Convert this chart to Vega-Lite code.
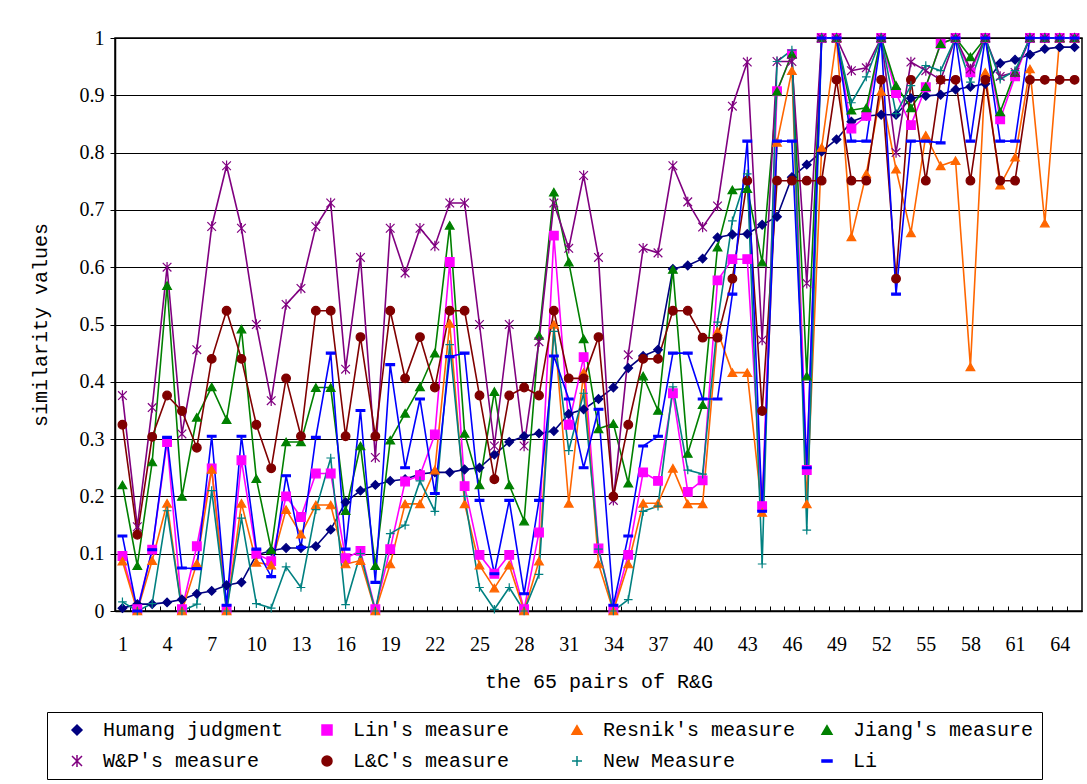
{
"$schema": "https://vega.github.io/schema/vega-lite/v6.json",
"width": 967, "height": 573,
"autosize": {"type": "none"},
"padding": {"left": 115, "top": 38, "right": 5, "bottom": 173},
"background": "#ffffff",
"config": {
  "font": "Liberation Mono",
  "view": {"stroke": "#000000", "strokeWidth": 1.5},
  "axis": {"domainColor": "#000000", "tickColor": "#000000", "labelColor": "#000000", "titleColor": "#000000", "labelFont": "Liberation Serif", "titleFont": "Liberation Mono", "titleFontWeight": "normal", "labelFontSize": 20, "titleFontSize": 20}
},
"data": {"values": [
{"s":"Humang judgment","i":1,"v":0.005},{"s":"Humang judgment","i":2,"v":0.012},{"s":"Humang judgment","i":3,"v":0.012},{"s":"Humang judgment","i":4,"v":0.015},{"s":"Humang judgment","i":5,"v":0.02},{"s":"Humang judgment","i":6,"v":0.03},{"s":"Humang judgment","i":7,"v":0.035},{"s":"Humang judgment","i":8,"v":0.045},{"s":"Humang judgment","i":9,"v":0.05},{"s":"Humang judgment","i":10,"v":0.098},
{"s":"Humang judgment","i":11,"v":0.105},{"s":"Humang judgment","i":12,"v":0.11},{"s":"Humang judgment","i":13,"v":0.11},{"s":"Humang judgment","i":14,"v":0.113},{"s":"Humang judgment","i":15,"v":0.142},{"s":"Humang judgment","i":16,"v":0.19},{"s":"Humang judgment","i":17,"v":0.21},{"s":"Humang judgment","i":18,"v":0.22},{"s":"Humang judgment","i":19,"v":0.227},{"s":"Humang judgment","i":20,"v":0.23},
{"s":"Humang judgment","i":21,"v":0.239},{"s":"Humang judgment","i":22,"v":0.242},{"s":"Humang judgment","i":23,"v":0.242},{"s":"Humang judgment","i":24,"v":0.247},{"s":"Humang judgment","i":25,"v":0.25},{"s":"Humang judgment","i":26,"v":0.273},{"s":"Humang judgment","i":27,"v":0.295},{"s":"Humang judgment","i":28,"v":0.305},{"s":"Humang judgment","i":29,"v":0.31},{"s":"Humang judgment","i":30,"v":0.314},
{"s":"Humang judgment","i":31,"v":0.344},{"s":"Humang judgment","i":32,"v":0.352},{"s":"Humang judgment","i":33,"v":0.37},{"s":"Humang judgment","i":34,"v":0.39},{"s":"Humang judgment","i":35,"v":0.424},{"s":"Humang judgment","i":36,"v":0.445},{"s":"Humang judgment","i":37,"v":0.456},{"s":"Humang judgment","i":38,"v":0.597},{"s":"Humang judgment","i":39,"v":0.603},{"s":"Humang judgment","i":40,"v":0.615},
{"s":"Humang judgment","i":41,"v":0.652},{"s":"Humang judgment","i":42,"v":0.657},{"s":"Humang judgment","i":43,"v":0.658},{"s":"Humang judgment","i":44,"v":0.674},{"s":"Humang judgment","i":45,"v":0.688},{"s":"Humang judgment","i":46,"v":0.757},{"s":"Humang judgment","i":47,"v":0.779},{"s":"Humang judgment","i":48,"v":0.802},{"s":"Humang judgment","i":49,"v":0.823},{"s":"Humang judgment","i":50,"v":0.854},
{"s":"Humang judgment","i":51,"v":0.864},{"s":"Humang judgment","i":52,"v":0.866},{"s":"Humang judgment","i":53,"v":0.866},{"s":"Humang judgment","i":54,"v":0.895},{"s":"Humang judgment","i":55,"v":0.899},{"s":"Humang judgment","i":56,"v":0.901},{"s":"Humang judgment","i":57,"v":0.91},{"s":"Humang judgment","i":58,"v":0.915},{"s":"Humang judgment","i":59,"v":0.92},{"s":"Humang judgment","i":60,"v":0.956},
{"s":"Humang judgment","i":61,"v":0.962},{"s":"Humang judgment","i":62,"v":0.971},{"s":"Humang judgment","i":63,"v":0.981},{"s":"Humang judgment","i":64,"v":0.984},{"s":"Humang judgment","i":65,"v":0.984},

{"s":"Lin's measure","i":1,"v":0.096},{"s":"Lin's measure","i":2,"v":0.003},{"s":"Lin's measure","i":3,"v":0.107},{"s":"Lin's measure","i":4,"v":0.295},{"s":"Lin's measure","i":5,"v":0.003},{"s":"Lin's measure","i":6,"v":0.113},{"s":"Lin's measure","i":7,"v":0.249},{"s":"Lin's measure","i":8,"v":0.003},{"s":"Lin's measure","i":9,"v":0.263},{"s":"Lin's measure","i":10,"v":0.1},
{"s":"Lin's measure","i":11,"v":0.087},{"s":"Lin's measure","i":12,"v":0.2},{"s":"Lin's measure","i":13,"v":0.164},{"s":"Lin's measure","i":14,"v":0.24},{"s":"Lin's measure","i":15,"v":0.24},{"s":"Lin's measure","i":16,"v":0.092},{"s":"Lin's measure","i":17,"v":0.105},{"s":"Lin's measure","i":18,"v":0.003},{"s":"Lin's measure","i":19,"v":0.108},{"s":"Lin's measure","i":20,"v":0.226},
{"s":"Lin's measure","i":21,"v":0.237},{"s":"Lin's measure","i":22,"v":0.308},{"s":"Lin's measure","i":23,"v":0.609},{"s":"Lin's measure","i":24,"v":0.218},{"s":"Lin's measure","i":25,"v":0.098},{"s":"Lin's measure","i":26,"v":0.065},{"s":"Lin's measure","i":27,"v":0.098},{"s":"Lin's measure","i":28,"v":0.003},{"s":"Lin's measure","i":29,"v":0.137},{"s":"Lin's measure","i":30,"v":0.655},
{"s":"Lin's measure","i":31,"v":0.325},{"s":"Lin's measure","i":32,"v":0.443},{"s":"Lin's measure","i":33,"v":0.109},{"s":"Lin's measure","i":34,"v":0.003},{"s":"Lin's measure","i":35,"v":0.098},{"s":"Lin's measure","i":36,"v":0.242},{"s":"Lin's measure","i":37,"v":0.227},{"s":"Lin's measure","i":38,"v":0.38},{"s":"Lin's measure","i":39,"v":0.208},{"s":"Lin's measure","i":40,"v":0.228},
{"s":"Lin's measure","i":41,"v":0.577},{"s":"Lin's measure","i":42,"v":0.614},{"s":"Lin's measure","i":43,"v":0.614},{"s":"Lin's measure","i":44,"v":0.183},{"s":"Lin's measure","i":45,"v":0.907},{"s":"Lin's measure","i":46,"v":0.972},{"s":"Lin's measure","i":47,"v":0.246},{"s":"Lin's measure","i":48,"v":1},{"s":"Lin's measure","i":49,"v":1},{"s":"Lin's measure","i":50,"v":0.842},
{"s":"Lin's measure","i":51,"v":0.864},{"s":"Lin's measure","i":52,"v":1},{"s":"Lin's measure","i":53,"v":0.904},{"s":"Lin's measure","i":54,"v":0.848},{"s":"Lin's measure","i":55,"v":0.914},{"s":"Lin's measure","i":56,"v":0.99},{"s":"Lin's measure","i":57,"v":1},{"s":"Lin's measure","i":58,"v":0.94},{"s":"Lin's measure","i":59,"v":1},{"s":"Lin's measure","i":60,"v":0.858},
{"s":"Lin's measure","i":61,"v":0.933},{"s":"Lin's measure","i":62,"v":1},{"s":"Lin's measure","i":63,"v":1},{"s":"Lin's measure","i":64,"v":1},{"s":"Lin's measure","i":65,"v":1},

{"s":"Resnik's measure","i":1,"v":0.087},{"s":"Resnik's measure","i":2,"v":0},{"s":"Resnik's measure","i":3,"v":0.088},{"s":"Resnik's measure","i":4,"v":0.188},{"s":"Resnik's measure","i":5,"v":0},{"s":"Resnik's measure","i":6,"v":0.083},{"s":"Resnik's measure","i":7,"v":0.247},{"s":"Resnik's measure","i":8,"v":0},{"s":"Resnik's measure","i":9,"v":0.188},{"s":"Resnik's measure","i":10,"v":0.085},
{"s":"Resnik's measure","i":11,"v":0.08},{"s":"Resnik's measure","i":12,"v":0.177},{"s":"Resnik's measure","i":13,"v":0.134},{"s":"Resnik's measure","i":14,"v":0.185},{"s":"Resnik's measure","i":15,"v":0.185},{"s":"Resnik's measure","i":16,"v":0.082},{"s":"Resnik's measure","i":17,"v":0.088},{"s":"Resnik's measure","i":18,"v":0},{"s":"Resnik's measure","i":19,"v":0.082},{"s":"Resnik's measure","i":20,"v":0.187},
{"s":"Resnik's measure","i":21,"v":0.187},{"s":"Resnik's measure","i":22,"v":0.246},{"s":"Resnik's measure","i":23,"v":0.502},{"s":"Resnik's measure","i":24,"v":0.187},{"s":"Resnik's measure","i":25,"v":0.08},{"s":"Resnik's measure","i":26,"v":0.04},{"s":"Resnik's measure","i":27,"v":0.08},{"s":"Resnik's measure","i":28,"v":0},{"s":"Resnik's measure","i":29,"v":0.087},{"s":"Resnik's measure","i":30,"v":0.5},
{"s":"Resnik's measure","i":31,"v":0.188},{"s":"Resnik's measure","i":32,"v":0.416},{"s":"Resnik's measure","i":33,"v":0.082},{"s":"Resnik's measure","i":34,"v":0},{"s":"Resnik's measure","i":35,"v":0.082},{"s":"Resnik's measure","i":36,"v":0.188},{"s":"Resnik's measure","i":37,"v":0.188},{"s":"Resnik's measure","i":38,"v":0.249},{"s":"Resnik's measure","i":39,"v":0.187},{"s":"Resnik's measure","i":40,"v":0.187},
{"s":"Resnik's measure","i":41,"v":0.488},{"s":"Resnik's measure","i":42,"v":0.416},{"s":"Resnik's measure","i":43,"v":0.416},{"s":"Resnik's measure","i":44,"v":0.172},{"s":"Resnik's measure","i":45,"v":0.818},{"s":"Resnik's measure","i":46,"v":0.943},{"s":"Resnik's measure","i":47,"v":0.187},{"s":"Resnik's measure","i":48,"v":0.809},{"s":"Resnik's measure","i":49,"v":1},{"s":"Resnik's measure","i":50,"v":0.653},
{"s":"Resnik's measure","i":51,"v":0.763},{"s":"Resnik's measure","i":52,"v":0.907},{"s":"Resnik's measure","i":53,"v":0.771},{"s":"Resnik's measure","i":54,"v":0.66},{"s":"Resnik's measure","i":55,"v":0.83},{"s":"Resnik's measure","i":56,"v":0.777},{"s":"Resnik's measure","i":57,"v":0.786},{"s":"Resnik's measure","i":58,"v":0.426},{"s":"Resnik's measure","i":59,"v":0.94},{"s":"Resnik's measure","i":60,"v":0.743},
{"s":"Resnik's measure","i":61,"v":0.792},{"s":"Resnik's measure","i":62,"v":0.946},{"s":"Resnik's measure","i":63,"v":0.677},{"s":"Resnik's measure","i":64,"v":1},{"s":"Resnik's measure","i":65,"v":1},

{"s":"Jiang's measure","i":1,"v":0.22},{"s":"Jiang's measure","i":2,"v":0.079},{"s":"Jiang's measure","i":3,"v":0.26},{"s":"Jiang's measure","i":4,"v":0.568},{"s":"Jiang's measure","i":5,"v":0.2},{"s":"Jiang's measure","i":6,"v":0.338},{"s":"Jiang's measure","i":7,"v":0.391},{"s":"Jiang's measure","i":8,"v":0.334},{"s":"Jiang's measure","i":9,"v":0.492},{"s":"Jiang's measure","i":10,"v":0.231},
{"s":"Jiang's measure","i":11,"v":0.107},{"s":"Jiang's measure","i":12,"v":0.295},{"s":"Jiang's measure","i":13,"v":0.295},{"s":"Jiang's measure","i":14,"v":0.39},{"s":"Jiang's measure","i":15,"v":0.39},{"s":"Jiang's measure","i":16,"v":0.175},{"s":"Jiang's measure","i":17,"v":0.288},{"s":"Jiang's measure","i":18,"v":0.079},{"s":"Jiang's measure","i":19,"v":0.298},{"s":"Jiang's measure","i":20,"v":0.345},
{"s":"Jiang's measure","i":21,"v":0.391},{"s":"Jiang's measure","i":22,"v":0.45},{"s":"Jiang's measure","i":23,"v":0.673},{"s":"Jiang's measure","i":24,"v":0.31},{"s":"Jiang's measure","i":25,"v":0.22},{"s":"Jiang's measure","i":26,"v":0.383},{"s":"Jiang's measure","i":27,"v":0.22},{"s":"Jiang's measure","i":28,"v":0.157},{"s":"Jiang's measure","i":29,"v":0.481},{"s":"Jiang's measure","i":30,"v":0.731},
{"s":"Jiang's measure","i":31,"v":0.609},{"s":"Jiang's measure","i":32,"v":0.475},{"s":"Jiang's measure","i":33,"v":0.318},{"s":"Jiang's measure","i":34,"v":0.327},{"s":"Jiang's measure","i":35,"v":0.223},{"s":"Jiang's measure","i":36,"v":0.41},{"s":"Jiang's measure","i":37,"v":0.35},{"s":"Jiang's measure","i":38,"v":0.596},{"s":"Jiang's measure","i":39,"v":0.275},{"s":"Jiang's measure","i":40,"v":0.36},
{"s":"Jiang's measure","i":41,"v":0.635},{"s":"Jiang's measure","i":42,"v":0.735},{"s":"Jiang's measure","i":43,"v":0.737},{"s":"Jiang's measure","i":44,"v":0.609},{"s":"Jiang's measure","i":45,"v":0.907},{"s":"Jiang's measure","i":46,"v":0.972},{"s":"Jiang's measure","i":47,"v":0.41},{"s":"Jiang's measure","i":48,"v":1},{"s":"Jiang's measure","i":49,"v":1},{"s":"Jiang's measure","i":50,"v":0.874},
{"s":"Jiang's measure","i":51,"v":0.878},{"s":"Jiang's measure","i":52,"v":1},{"s":"Jiang's measure","i":53,"v":0.917},{"s":"Jiang's measure","i":54,"v":0.878},{"s":"Jiang's measure","i":55,"v":0.915},{"s":"Jiang's measure","i":56,"v":0.99},{"s":"Jiang's measure","i":57,"v":1},{"s":"Jiang's measure","i":58,"v":0.967},{"s":"Jiang's measure","i":59,"v":1},{"s":"Jiang's measure","i":60,"v":0.871},
{"s":"Jiang's measure","i":61,"v":0.94},{"s":"Jiang's measure","i":62,"v":1},{"s":"Jiang's measure","i":63,"v":1},{"s":"Jiang's measure","i":64,"v":1},{"s":"Jiang's measure","i":65,"v":1},

{"s":"W&P's measure","i":1,"v":0.376},{"s":"W&P's measure","i":2,"v":0.147},{"s":"W&P's measure","i":3,"v":0.355},{"s":"W&P's measure","i":4,"v":0.6},{"s":"W&P's measure","i":5,"v":0.309},{"s":"W&P's measure","i":6,"v":0.456},{"s":"W&P's measure","i":7,"v":0.671},{"s":"W&P's measure","i":8,"v":0.777},{"s":"W&P's measure","i":9,"v":0.668},{"s":"W&P's measure","i":10,"v":0.5},
{"s":"W&P's measure","i":11,"v":0.367},{"s":"W&P's measure","i":12,"v":0.535},{"s":"W&P's measure","i":13,"v":0.563},{"s":"W&P's measure","i":14,"v":0.671},{"s":"W&P's measure","i":15,"v":0.712},{"s":"W&P's measure","i":16,"v":0.422},{"s":"W&P's measure","i":17,"v":0.617},{"s":"W&P's measure","i":18,"v":0.268},{"s":"W&P's measure","i":19,"v":0.668},{"s":"W&P's measure","i":20,"v":0.59},
{"s":"W&P's measure","i":21,"v":0.668},{"s":"W&P's measure","i":22,"v":0.637},{"s":"W&P's measure","i":23,"v":0.712},{"s":"W&P's measure","i":24,"v":0.712},{"s":"W&P's measure","i":25,"v":0.5},{"s":"W&P's measure","i":26,"v":0.288},{"s":"W&P's measure","i":27,"v":0.5},{"s":"W&P's measure","i":28,"v":0.288},{"s":"W&P's measure","i":29,"v":0.47},{"s":"W&P's measure","i":30,"v":0.712},
{"s":"W&P's measure","i":31,"v":0.633},{"s":"W&P's measure","i":32,"v":0.76},{"s":"W&P's measure","i":33,"v":0.617},{"s":"W&P's measure","i":34,"v":0.193},{"s":"W&P's measure","i":35,"v":0.447},{"s":"W&P's measure","i":36,"v":0.633},{"s":"W&P's measure","i":37,"v":0.625},{"s":"W&P's measure","i":38,"v":0.777},{"s":"W&P's measure","i":39,"v":0.714},{"s":"W&P's measure","i":40,"v":0.67},
{"s":"W&P's measure","i":41,"v":0.707},{"s":"W&P's measure","i":42,"v":0.881},{"s":"W&P's measure","i":43,"v":0.958},{"s":"W&P's measure","i":44,"v":0.473},{"s":"W&P's measure","i":45,"v":0.959},{"s":"W&P's measure","i":46,"v":0.959},{"s":"W&P's measure","i":47,"v":0.572},{"s":"W&P's measure","i":48,"v":1},{"s":"W&P's measure","i":49,"v":1},{"s":"W&P's measure","i":50,"v":0.943},
{"s":"W&P's measure","i":51,"v":0.948},{"s":"W&P's measure","i":52,"v":1},{"s":"W&P's measure","i":53,"v":0.8},{"s":"W&P's measure","i":54,"v":0.958},{"s":"W&P's measure","i":55,"v":0.943},{"s":"W&P's measure","i":56,"v":0.927},{"s":"W&P's measure","i":57,"v":1},{"s":"W&P's measure","i":58,"v":0.946},{"s":"W&P's measure","i":59,"v":1},{"s":"W&P's measure","i":60,"v":0.933},
{"s":"W&P's measure","i":61,"v":0.94},{"s":"W&P's measure","i":62,"v":1},{"s":"W&P's measure","i":63,"v":1},{"s":"W&P's measure","i":64,"v":1},{"s":"W&P's measure","i":65,"v":1},

{"s":"L&C's measure","i":1,"v":0.325},{"s":"L&C's measure","i":2,"v":0.133},{"s":"L&C's measure","i":3,"v":0.304},{"s":"L&C's measure","i":4,"v":0.376},{"s":"L&C's measure","i":5,"v":0.349},{"s":"L&C's measure","i":6,"v":0.285},{"s":"L&C's measure","i":7,"v":0.44},{"s":"L&C's measure","i":8,"v":0.524},{"s":"L&C's measure","i":9,"v":0.44},{"s":"L&C's measure","i":10,"v":0.325},
{"s":"L&C's measure","i":11,"v":0.249},{"s":"L&C's measure","i":12,"v":0.406},{"s":"L&C's measure","i":13,"v":0.305},{"s":"L&C's measure","i":14,"v":0.524},{"s":"L&C's measure","i":15,"v":0.524},{"s":"L&C's measure","i":16,"v":0.305},{"s":"L&C's measure","i":17,"v":0.478},{"s":"L&C's measure","i":18,"v":0.305},{"s":"L&C's measure","i":19,"v":0.524},{"s":"L&C's measure","i":20,"v":0.406},
{"s":"L&C's measure","i":21,"v":0.478},{"s":"L&C's measure","i":22,"v":0.39},{"s":"L&C's measure","i":23,"v":0.524},{"s":"L&C's measure","i":24,"v":0.524},{"s":"L&C's measure","i":25,"v":0.376},{"s":"L&C's measure","i":26,"v":0.23},{"s":"L&C's measure","i":27,"v":0.376},{"s":"L&C's measure","i":28,"v":0.39},{"s":"L&C's measure","i":29,"v":0.376},{"s":"L&C's measure","i":30,"v":0.524},
{"s":"L&C's measure","i":31,"v":0.406},{"s":"L&C's measure","i":32,"v":0.406},{"s":"L&C's measure","i":33,"v":0.478},{"s":"L&C's measure","i":34,"v":0.2},{"s":"L&C's measure","i":35,"v":0.325},{"s":"L&C's measure","i":36,"v":0.44},{"s":"L&C's measure","i":37,"v":0.44},{"s":"L&C's measure","i":38,"v":0.524},{"s":"L&C's measure","i":39,"v":0.524},{"s":"L&C's measure","i":40,"v":0.477},
{"s":"L&C's measure","i":41,"v":0.477},{"s":"L&C's measure","i":42,"v":0.58},{"s":"L&C's measure","i":43,"v":0.751},{"s":"L&C's measure","i":44,"v":0.349},{"s":"L&C's measure","i":45,"v":0.751},{"s":"L&C's measure","i":46,"v":0.751},{"s":"L&C's measure","i":47,"v":0.751},{"s":"L&C's measure","i":48,"v":0.751},{"s":"L&C's measure","i":49,"v":0.927},{"s":"L&C's measure","i":50,"v":0.751},
{"s":"L&C's measure","i":51,"v":0.751},{"s":"L&C's measure","i":52,"v":0.927},{"s":"L&C's measure","i":53,"v":0.58},{"s":"L&C's measure","i":54,"v":0.927},{"s":"L&C's measure","i":55,"v":0.751},{"s":"L&C's measure","i":56,"v":0.927},{"s":"L&C's measure","i":57,"v":0.927},{"s":"L&C's measure","i":58,"v":0.751},{"s":"L&C's measure","i":59,"v":0.927},{"s":"L&C's measure","i":60,"v":0.751},
{"s":"L&C's measure","i":61,"v":0.751},{"s":"L&C's measure","i":62,"v":0.927},{"s":"L&C's measure","i":63,"v":0.927},{"s":"L&C's measure","i":64,"v":0.927},{"s":"L&C's measure","i":65,"v":0.927},

{"s":"New Measure","i":1,"v":0.016},{"s":"New Measure","i":2,"v":0},{"s":"New Measure","i":3,"v":0.013},{"s":"New Measure","i":4,"v":0.175},{"s":"New Measure","i":5,"v":0},{"s":"New Measure","i":6,"v":0.012},{"s":"New Measure","i":7,"v":0.21},{"s":"New Measure","i":8,"v":0},{"s":"New Measure","i":9,"v":0.162},{"s":"New Measure","i":10,"v":0.013},
{"s":"New Measure","i":11,"v":0.005},{"s":"New Measure","i":12,"v":0.077},{"s":"New Measure","i":13,"v":0.041},{"s":"New Measure","i":14,"v":0.177},{"s":"New Measure","i":15,"v":0.267},{"s":"New Measure","i":16,"v":0.011},{"s":"New Measure","i":17,"v":0.1},{"s":"New Measure","i":18,"v":0},{"s":"New Measure","i":19,"v":0.135},{"s":"New Measure","i":20,"v":0.15},
{"s":"New Measure","i":21,"v":0.227},{"s":"New Measure","i":22,"v":0.174},{"s":"New Measure","i":23,"v":0.465},{"s":"New Measure","i":24,"v":0.2},{"s":"New Measure","i":25,"v":0.041},{"s":"New Measure","i":26,"v":0.003},{"s":"New Measure","i":27,"v":0.041},{"s":"New Measure","i":28,"v":0},{"s":"New Measure","i":29,"v":0.064},{"s":"New Measure","i":30,"v":0.488},
{"s":"New Measure","i":31,"v":0.28},{"s":"New Measure","i":32,"v":0.38},{"s":"New Measure","i":33,"v":0.108},{"s":"New Measure","i":34,"v":0},{"s":"New Measure","i":35,"v":0.02},{"s":"New Measure","i":36,"v":0.174},{"s":"New Measure","i":37,"v":0.183},{"s":"New Measure","i":38,"v":0.391},{"s":"New Measure","i":39,"v":0.246},{"s":"New Measure","i":40,"v":0.239},
{"s":"New Measure","i":41,"v":0.504},{"s":"New Measure","i":42,"v":0.681},{"s":"New Measure","i":43,"v":0.763},{"s":"New Measure","i":44,"v":0.082},{"s":"New Measure","i":45,"v":0.959},{"s":"New Measure","i":46,"v":0.979},{"s":"New Measure","i":47,"v":0.141},{"s":"New Measure","i":48,"v":1},{"s":"New Measure","i":49,"v":1},{"s":"New Measure","i":50,"v":0.887},
{"s":"New Measure","i":51,"v":0.932},{"s":"New Measure","i":52,"v":1},{"s":"New Measure","i":53,"v":0.868},{"s":"New Measure","i":54,"v":0.917},{"s":"New Measure","i":55,"v":0.952},{"s":"New Measure","i":56,"v":0.943},{"s":"New Measure","i":57,"v":1},{"s":"New Measure","i":58,"v":0.923},{"s":"New Measure","i":59,"v":1},{"s":"New Measure","i":60,"v":0.928},
{"s":"New Measure","i":61,"v":0.943},{"s":"New Measure","i":62,"v":1},{"s":"New Measure","i":63,"v":1},{"s":"New Measure","i":64,"v":1},{"s":"New Measure","i":65,"v":1},

{"s":"Li","i":1,"v":0.131},{"s":"Li","i":2,"v":0},{"s":"Li","i":3,"v":0.107},{"s":"Li","i":4,"v":0.303},{"s":"Li","i":5,"v":0.075},{"s":"Li","i":6,"v":0.074},{"s":"Li","i":7,"v":0.305},{"s":"Li","i":8,"v":0.01},{"s":"Li","i":9,"v":0.305},{"s":"Li","i":10,"v":0.108},
{"s":"Li","i":11,"v":0.06},{"s":"Li","i":12,"v":0.236},{"s":"Li","i":13,"v":0.111},{"s":"Li","i":14,"v":0.303},{"s":"Li","i":15,"v":0.45},{"s":"Li","i":16,"v":0.108},{"s":"Li","i":17,"v":0.35},{"s":"Li","i":18,"v":0.05},{"s":"Li","i":19,"v":0.43},{"s":"Li","i":20,"v":0.25},
{"s":"Li","i":21,"v":0.37},{"s":"Li","i":22,"v":0.205},{"s":"Li","i":23,"v":0.444},{"s":"Li","i":24,"v":0.45},{"s":"Li","i":25,"v":0.193},{"s":"Li","i":26,"v":0.065},{"s":"Li","i":27,"v":0.193},{"s":"Li","i":28,"v":0.03},{"s":"Li","i":29,"v":0.193},{"s":"Li","i":30,"v":0.445},
{"s":"Li","i":31,"v":0.37},{"s":"Li","i":32,"v":0.25},{"s":"Li","i":33,"v":0.352},{"s":"Li","i":34,"v":0.01},{"s":"Li","i":35,"v":0.131},{"s":"Li","i":36,"v":0.288},{"s":"Li","i":37,"v":0.305},{"s":"Li","i":38,"v":0.45},{"s":"Li","i":39,"v":0.45},{"s":"Li","i":40,"v":0.37},
{"s":"Li","i":41,"v":0.37},{"s":"Li","i":42,"v":0.553},{"s":"Li","i":43,"v":0.82},{"s":"Li","i":44,"v":0.174},{"s":"Li","i":45,"v":0.82},{"s":"Li","i":46,"v":0.82},{"s":"Li","i":47,"v":0.25},{"s":"Li","i":48,"v":1},{"s":"Li","i":49,"v":1},{"s":"Li","i":50,"v":0.82},
{"s":"Li","i":51,"v":0.82},{"s":"Li","i":52,"v":1},{"s":"Li","i":53,"v":0.553},{"s":"Li","i":54,"v":0.82},{"s":"Li","i":55,"v":0.82},{"s":"Li","i":56,"v":0.817},{"s":"Li","i":57,"v":1},{"s":"Li","i":58,"v":0.82},{"s":"Li","i":59,"v":1},{"s":"Li","i":60,"v":0.82},
{"s":"Li","i":61,"v":0.82},{"s":"Li","i":62,"v":1},{"s":"Li","i":63,"v":1},{"s":"Li","i":64,"v":1},{"s":"Li","i":65,"v":1}
]},
"encoding": {
  "x": {"field": "i", "type": "quantitative", "scale": {"domain": [0.5, 65.5], "nice": false, "zero": false},
    "axis": {"title": "the 65 pairs of R&G", "values": [1,2,3,4,5,6,7,8,9,10,11,12,13,14,15,16,17,18,19,20,21,22,23,24,25,26,27,28,29,30,31,32,33,34,35,36,37,38,39,40,41,42,43,44,45,46,47,48,49,50,51,52,53,54,55,56,57,58,59,60,61,62,63,64,65],
      "labelExpr": "(datum.value - 1) % 3 == 0 ? datum.label : ''", "labelOverlap": false, "labelFlush": false, "grid": false,
      "tickOffset": -7.44, "labelOffset": 7.44, "tickSize": -5, "labelPadding": 28, "titleY": 70, "titleBaseline": "middle", "domainWidth": 1.5}},
  "y": {"field": "v", "type": "quantitative", "scale": {"domain": [0, 1], "nice": false},
    "axis": {"title": "similarity values", "values": [0,0.1,0.2,0.3,0.4,0.5,0.6,0.7,0.8,0.9,1], "format": "~g", "grid": true, "gridColor": "#000000", "gridWidth": 1, "tickSize": 5, "labelPadding": 6, "titleX": -75, "titleBaseline": "middle", "domainWidth": 1.5}}
},
"layer": [
  {"mark": {"type": "line", "strokeWidth": 1.6},
   "encoding": {
     "color": {"field": "s", "type": "nominal",
       "scale": {"domain": ["Humang judgment","Lin's measure","Resnik's measure","Jiang's measure","W&P's measure","L&C's measure","New Measure","Li"],
                 "range": ["#000080","#FF00FF","#FF6600","#008000","#800080","#800000","#008080","#0000FF"]},
       "legend": {"orient": "none", "legendX": -68, "legendY": 674, "columns": 4, "direction": "horizontal", "gridAlign": "all", "title": null,
         "symbolSize": 100, "symbolStrokeWidth": 1.5, "symbolOpacity": 1, "symbolOffset": 12, "labelFont": "Liberation Mono", "labelFontSize": 20, "labelColor": "#000000", "labelLimit": 400,
         "labelOffset": 16, "columnPadding": 9, "rowPadding": 11, "padding": 8, "strokeColor": "#000000"}}
   }},
  {"mark": {"type": "point", "filled": true, "size": 75, "strokeWidth": 1.2, "opacity": 1},
   "encoding": {
     "color": {"field": "s", "type": "nominal", "legend": null},
     "stroke": {"field": "s", "type": "nominal", "legend": null,
       "scale": {"domain": ["Humang judgment","Lin's measure","Resnik's measure","Jiang's measure","W&P's measure","L&C's measure","New Measure","Li"],
                 "range": ["#000080","#FF00FF","#FF6600","#008000","#800080","#800000","#008080","#0000FF"]}},
     "shape": {"field": "s", "type": "nominal", "legend": null,
       "scale": {"domain": ["Humang judgment","Lin's measure","Resnik's measure","Jiang's measure","W&P's measure","L&C's measure","New Measure","Li"],
                 "range": ["diamond","square","triangle-up","triangle-up","M-1,-1L1,1M-1,1L1,-1M0,-1.2L0,1.2","circle","M-1,0L1,0M0,-1L0,1","M-1,-0.22H1V0.22H-1Z"]}}
   }}
]
}
